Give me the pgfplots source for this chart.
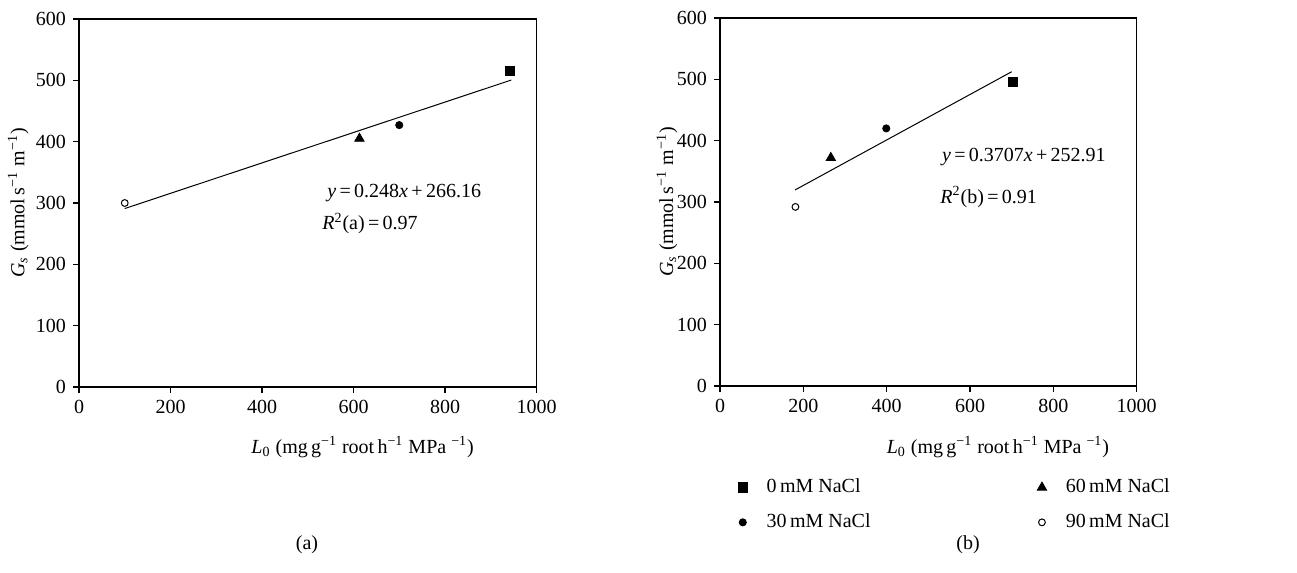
\documentclass[border=0pt]{standalone}
\usepackage{fontspec}
\setmainfont{Liberation Serif}
\usepackage{pgfplots}
\pgfplotsset{compat=1.18}
\newcommand{\gslabel}{\textit{G}\textsubscript{\textit{s}} (mmol\,s\textsuperscript{−1} m\textsuperscript{−1})}
\newcommand{\lolabel}{\textit{L}\textsubscript{0} (mg\,g\textsuperscript{−1} root\,h\textsuperscript{−1} MPa \textsuperscript{−1})}
\begin{document}
\begin{tikzpicture}[font=\fontsize{10}{12}\selectfont]
\path[use as bounding box] (0,0) rectangle (648.5pt,286.5pt);
\pgfplotsset{
  gsax/.style={
    scale only axis, height=184pt,
    xmin=0, xmax=1000, ymin=0, ymax=600,
    xtick={0,200,...,1000}, ytick={0,100,...,600},
    tick align=outside, xtick pos=left, ytick pos=left,
    major tick length=3pt,
    axis line style={line width=0.6pt},
    every tick/.style={black, line width=0.6pt},
    tick label style={font=\fontsize{10}{12}\selectfont},
    /pgf/number format/assume math mode=true,
    /pgf/number format/1000 sep={},
    xlabel={\lolabel}, ylabel={\gslabel},
    label style={font=\fontsize{10}{12}\selectfont},
  },
  m0/.style={only marks, mark=square*, mark size=2.3pt, black},
  m30/.style={only marks, mark=*, mark size=1.8pt, black},
  m60/.style={only marks, mark=triangle*, mark size=2.7pt, black},
  m90/.style={only marks, mark=o, mark size=1.7pt, black, mark options={line width=0.5pt}},
}
% (a)
\begin{axis}[gsax, width=228.75pt, at={(39.5pt,93pt)}, anchor=south west,
  xlabel style={at={(axis description cs:0.62,-0.163)}, anchor=center},
  ylabel style={at={(axis description cs:-0.133,0.5)}, anchor=center}]
\addplot[black, line width=0.5pt, no marks] coordinates {(100,290.96) (945,500.52)};
\addplot[m0] coordinates {(942,515)};
\addplot[m60] coordinates {(613,405)};
\addplot[m30] coordinates {(700,427)};
\addplot[m90] coordinates {(100,300)};
\node[anchor=west, inner sep=0pt] at (axis cs:542,316) {\textit{y}\,=\,0.248\textit{x}\,+\,266.16};
\node[anchor=west, inner sep=0pt] at (axis cs:531,267) {\textit{R}\textsuperscript{2}(a)\,=\,0.97};
\end{axis}
% (b)
\begin{axis}[gsax, width=208.35pt, at={(360pt,93.5pt)}, anchor=south west,
  xlabel style={at={(axis description cs:0.667,-0.166)}, anchor=center},
  ylabel style={at={(axis description cs:-0.127,0.5)}, anchor=center},
  legend columns=2,
  legend image code/.code={
    \path[draw=none, fill=none] (0cm,0cm) -- (0.55cm,0cm);
    \draw[#1] plot coordinates {(0.2cm,0cm)};
  },
  legend style={draw=none, fill=none, at={(axis description cs:0.012,-0.23)}, anchor=north west,
    font=\fontsize{10}{12}\selectfont, row sep=5pt,
    /tikz/every even column/.append style={column sep=78pt}},
  legend cell align=left]
\addplot[black, line width=0.5pt, no marks, forget plot] coordinates {(180,319.6) (700,512.4)};
\addplot[m0] coordinates {(703,496)};
\addlegendentry{0\,mM NaCl}
\addplot[m60] coordinates {(266,372)};
\addlegendentry{60\,mM NaCl}
\addplot[m30] coordinates {(399,420)};
\addlegendentry{30\,mM NaCl}
\addplot[m90] coordinates {(181,292)};
\addlegendentry{90\,mM NaCl}
\node[anchor=west, inner sep=0pt] at (axis cs:532,373) {\textit{y}\,=\,0.3707\textit{x}\,+\,252.91};
\node[anchor=west, inner sep=0pt] at (axis cs:528,308) {\textit{R}\textsuperscript{2}(b)\,=\,0.91};
\end{axis}
\node at (153.5pt,14pt) {(a)};
\node at (484pt,14pt) {(b)};
\end{tikzpicture}
\end{document}
